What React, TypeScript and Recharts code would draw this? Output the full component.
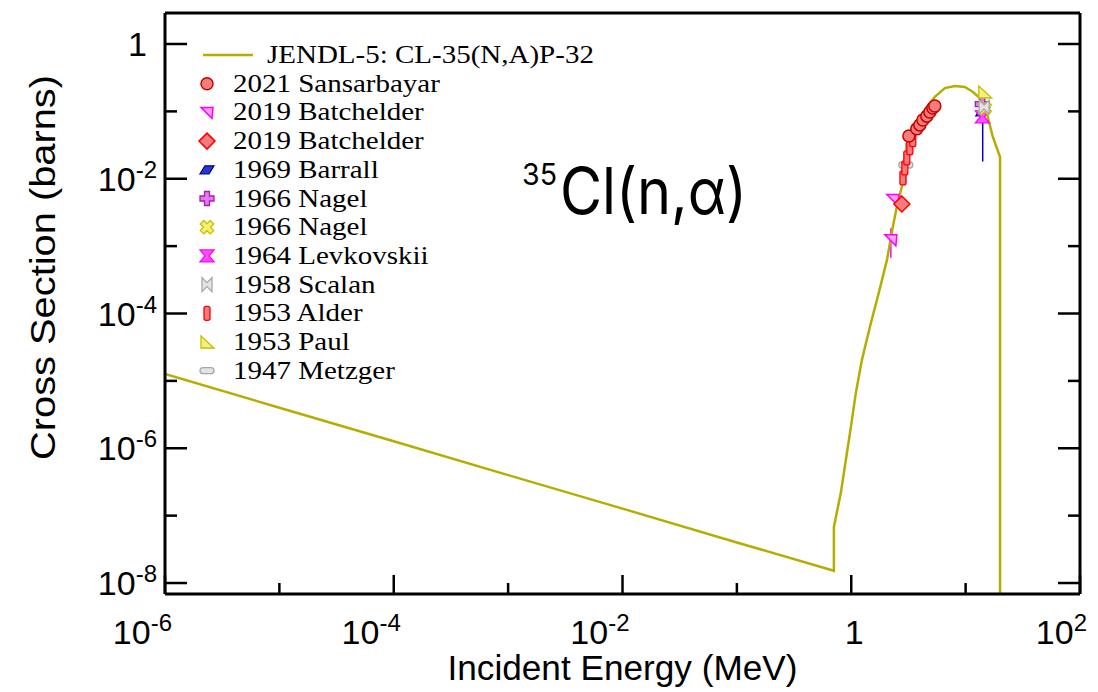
import React from 'react';
import { ComposedChart, Line, Scatter, XAxis, YAxis, ErrorBar, Legend } from 'recharts';

// JENDL-5 evaluated curve (MeV, barns)
const jendlEnergy = [1e-6, 1e-5, 1e-4, 1e-3, 1e-2, 0.1, 0.705, 0.705, 0.811, 0.897, 0.993, 1.097, 1.24, 1.455, 1.74, 2.05, 2.31, 2.5, 2.77, 3.0, 3.25, 3.6, 3.98, 4.58, 5.38, 6.58, 8.05, 9.84, 11.6, 13.3, 15.3, 17.3, 20, 20];
const jendlXs = [1.27e-5, 4.0e-6, 1.27e-6, 4.0e-7, 1.27e-7, 4.0e-8, 1.52e-8, 6.8e-8, 2.18e-7, 6.7e-7, 2.08e-6, 6.6e-6, 2.05e-5, 6.3e-5, 2.02e-4, 6.2e-4, 1.93e-3, 3.8e-3, 7.6e-3, 0.015, 0.0296, 0.053, 0.08, 0.116, 0.164, 0.222, 0.238, 0.23, 0.194, 0.158, 0.0946, 0.0417, 0.021, 1e-12];

// experimental points
const sansarbayarE = [3.19, 3.74, 3.98, 4.23, 4.58, 4.87, 5.17, 5.38];
const sansarbayarXs = [0.043, 0.055, 0.063, 0.0745, 0.085, 0.098, 0.112, 0.12];
const batchelderTriE = [2.22, 2.31];
const batchelderTriXs = [0.00124, 0.0049];
const batchelderTriErr = [[0.00057, 0.0006], [0, 0]];
const batchelderDiaE = [2.77];
const batchelderDiaXs = [0.00423];
const barrallE = [14.1];
const barrallXs = [0.098];
const barrallErr = [[0.08, 0.035]];
const nagelPlusE = [14.0];
const nagelPlusXs = [0.128];
const nagelCrossE = [14.7];
const nagelCrossXs = [0.112];
const levkovskiiE = [14.0];
const levkovskiiXs = [0.083];
const scalanE = [14.5];
const scalanXs = [0.116];
const alderE = [2.83, 2.94, 3.06, 3.25, 3.45];
const alderXs = [0.0103, 0.0145, 0.0204, 0.0288, 0.038];
const paulE = [14.7];
const paulXs = [0.194];
const metzgerE = [3.0];
const metzgerXs = [0.016];
const metzgerErr = [[0.0073, 0.018]];

const xTicks = [1e-6, 1e-5, 1e-4, 1e-3, 1e-2, 1e-1, 1, 10, 100];
const yTicks = [1e-8, 1e-7, 1e-6, 1e-5, 1e-4, 1e-3, 1e-2, 1e-1, 1];

const legendTitle = 'JENDL-5: CL-35(N,A)P-32';
const legendNames = ['2021 Sansarbayar', '2019 Batchelder', '2019 Batchelder', '1969 Barrall', '1966 Nagel', '1966 Nagel', '1964 Levkovskii', '1958 Scalan', '1953 Alder', '1953 Paul', '1947 Metzger'];
const legendKinds = ['circle', 'triL', 'diamond', 'para', 'plus', 'cross', 'hourglass', 'bowtie', 'rectV', 'triR', 'rectH'];

const toPoints = (e: number[], s: number[], err?: number[][]) =>
  e.map((x, i) => (err ? { x, y: s[i], err: err[i] } : { x, y: s[i] }));

const curve = toPoints(jendlEnergy, jendlXs);

const LINE_COLOR = '#b5ad00';
const SANS = 'Liberation Sans, Arial, sans-serif';
const SERIF = 'Liberation Serif, Times New Roman, serif';

function MarkerShape({ kind, cx, cy }: { kind: string; cx: number; cy: number }) {
  const t = `translate(${cx},${cy})`;
  switch (kind) {
    case 'circle':
      return <circle cx={cx} cy={cy} r={6} fill="#f47c7c" stroke="#c80000" strokeWidth={1.5} />;
    case 'triL':
      return <polygon transform={t} points="-6,-5 6,-5 5,6" fill="#ffa0ff" stroke="#ff00ff" strokeWidth={1.5} />;
    case 'diamond':
      return <polygon transform={t} points="0,-8 8,0 0,8 -8,0" fill="#f47c7c" stroke="#ff0000" strokeWidth={1.5} />;
    case 'para':
      return <polygon transform={t} points="-7,4 -2,-4 7,-4 2,4" fill="#2838c8" stroke="#0000a0" strokeWidth={1.2} />;
    case 'plus':
      return <polygon transform={t} points="-2.5,-7 2.5,-7 2.5,-2.5 7,-2.5 7,2.5 2.5,2.5 2.5,7 -2.5,7 -2.5,2.5 -7,2.5 -7,-2.5 -2.5,-2.5" fill="#e878f0" stroke="#a020b0" strokeWidth={1.3} />;
    case 'cross':
      return <polygon transform={`${t} rotate(45)`} points="-2.5,-7 2.5,-7 2.5,-2.5 7,-2.5 7,2.5 2.5,2.5 2.5,7 -2.5,7 -2.5,2.5 -7,2.5 -7,-2.5 -2.5,-2.5" fill="#f4f070" stroke="#c8c000" strokeWidth={1.3} />;
    case 'hourglass':
      return <polygon transform={t} points="-7,-6 7,-6 2,0 7,6 -7,6 -2,0" fill="#ff50ff" stroke="#ff00ff" strokeWidth={1.3} />;
    case 'bowtie':
      return <polygon transform={t} points="-5,-7 0,-2 5,-7 5,7 0,2 -5,7" fill="#e4e4e4" stroke="#a8a8a8" strokeWidth={1.3} />;
    case 'rectV':
      return <rect x={cx - 3} y={cy - 7} width={6} height={14} rx={2} fill="#f47c7c" stroke="#ff0000" strokeWidth={1.3} />;
    case 'triR':
      return <polygon transform={t} points="-6,-6 -6,6 7,6" fill="#f4f080" stroke="#c0c000" strokeWidth={1.3} />;
    case 'rectH':
      return <rect x={cx - 7} y={cy - 3} width={14} height={6} rx={3} fill="#e4e4e4" stroke="#a8a8a8" strokeWidth={1.3} />;
    default:
      return null;
  }
}

const shapeOf = (kind: string) => (p: any) => <MarkerShape kind={kind} cx={p.cx} cy={p.cy} />;

function PowText({ x, y, exp, anchor }: { x: number; y: number; exp: number; anchor: 'start' | 'middle' | 'end' }) {
  const style = { fontFamily: SANS, fontSize: 34, fill: '#000' };
  if (exp === 0) {
    return <text x={x} y={y} textAnchor={anchor} style={style}>1</text>;
  }
  return (
    <text x={x} y={y} textAnchor={anchor} style={style}>
      10<tspan dy={-13} fontSize={24}>{exp}</tspan>
    </text>
  );
}

const expOf = (v: number) => Math.round(Math.log10(v));

function BottomTick(props: any) {
  const { x, y, payload } = props;
  const exp = expOf(payload.value);
  const major = exp % 2 === 0;
  return (
    <g>
      <line x1={x} x2={x} y1={y} y2={y - (major ? 19 : 11)} stroke="#000" strokeWidth={2.5} />
      {major && <PowText x={exp === 0 ? x + 3 : x + 7} y={y + 50} exp={exp} anchor={exp === 0 ? 'middle' : 'end'} />}
    </g>
  );
}

function LeftTick(props: any) {
  const { x, y, payload } = props;
  const exp = expOf(payload.value);
  const major = exp % 2 === 0;
  return (
    <g>
      <line x1={x} x2={x + (major ? 22 : 12)} y1={y} y2={y} stroke="#000" strokeWidth={2.5} />
      {major && <PowText x={exp === 0 ? x - 18 : x - 8} y={y + 12} exp={exp} anchor="end" />}
    </g>
  );
}

function RightTick(props: any) {
  const { x, y, payload } = props;
  const major = expOf(payload.value) % 2 === 0;
  return <line x1={x} x2={x - (major ? 22 : 12)} y1={y} y2={y} stroke="#000" strokeWidth={2.5} />;
}

function XLabel(props: any) {
  const { viewBox } = props;
  return (
    <text
      x={viewBox.x + viewBox.width / 2}
      y={viewBox.y + viewBox.height - 12}
      textAnchor="middle"
      textLength={350}
      lengthAdjust="spacingAndGlyphs"
      style={{ fontFamily: SANS, fontSize: 35, fill: '#000' }}
    >
      Incident Energy (MeV)
    </text>
  );
}

function YLabel(props: any) {
  const { viewBox } = props;
  const cy = viewBox.y + viewBox.height / 2 - 36;
  return (
    <text
      transform={`translate(47,${cy}) rotate(-90)`}
      textAnchor="middle"
      textLength={385}
      lengthAdjust="spacingAndGlyphs"
      style={{ fontFamily: SANS, fontSize: 35, fill: '#000' }}
    >
      Cross Section (barns)
    </text>
  );
}

function LegendBox() {
  const rowY = (i: number) => 47 + i * 28.7;
  return (
    <svg width={800} height={400} style={{ overflow: 'visible' }}>
      <line x1={195} x2={245} y1={rowY(0)} y2={rowY(0)} stroke={LINE_COLOR} strokeWidth={2.5} />
      <text transform={`translate(259,${rowY(0) + 8}) scale(1.16,1)`} style={{ fontFamily: SERIF, fontSize: 25 }}>
        {legendTitle}
      </text>
      {legendNames.map((name, i) => (
        <g key={i}>
          <MarkerShape kind={legendKinds[i]} cx={199} cy={rowY(i + 1)} />
          <text transform={`translate(225,${rowY(i + 1) + 8}) scale(1.16,1)`} style={{ fontFamily: SERIF, fontSize: 25 }}>
            {name}
          </text>
        </g>
      ))}
      <text x={514} y={177} textLength={35} lengthAdjust="spacingAndGlyphs" style={{ fontFamily: 'Inter, sans-serif', fontSize: 30 }}>
        35
      </text>
      <text x={552} y={206} textLength={187} lengthAdjust="spacingAndGlyphs" style={{ fontFamily: 'Inter, sans-serif', fontSize: 64 }}>
        Cl(n,α)
      </text>
    </svg>
  );
}

const logDomainX: [number, number] = [1e-6, 100];
const logDomainY: [number, number] = [Math.pow(10, -8.163), Math.pow(10, 0.46)];

export default function App() {
  return (
    <div style={{ position: 'relative', width: 1090, height: 684 }}>
      <ComposedChart width={1090} height={684} margin={{ top: 4, right: 17, left: 57, bottom: 0 }}>
        <XAxis
          dataKey="x"
          type="number"
          scale="log"
          domain={logDomainX}
          allowDataOverflow
          ticks={xTicks}
          interval={0}
          tickSize={0}
          tickMargin={0}
          tickLine={false}
          tick={<BottomTick />}
          height={98}
          axisLine={{ stroke: '#000', strokeWidth: 3 }}
          label={<XLabel />}
        />
        <XAxis
          xAxisId="top"
          orientation="top"
          type="number"
          scale="log"
          domain={logDomainX}
          allowDataOverflow
          height={1}
          tick={false}
          tickLine={false}
          axisLine={{ stroke: '#000', strokeWidth: 3 }}
        />
        <YAxis
          dataKey="y"
          type="number"
          scale="log"
          domain={logDomainY}
          allowDataOverflow
          ticks={yTicks}
          interval={0}
          tickSize={0}
          tickMargin={0}
          tickLine={false}
          tick={<LeftTick />}
          width={100}
          axisLine={{ stroke: '#000', strokeWidth: 3 }}
          label={<YLabel />}
        />
        <YAxis
          yAxisId="r"
          orientation="right"
          type="number"
          scale="log"
          domain={logDomainY}
          allowDataOverflow
          ticks={yTicks}
          interval={0}
          tickSize={0}
          tickMargin={0}
          tickLine={false}
          tick={<RightTick />}
          width={1}
          axisLine={{ stroke: '#000', strokeWidth: 3 }}
        />
        <Legend
          layout="vertical"
          align="center"
          verticalAlign="middle"
          wrapperStyle={{ left: 0, top: 0, width: 800, height: 400 }}
          content={() => <LegendBox />}
        />
        <Scatter data={toPoints(metzgerE, metzgerXs, metzgerErr)} dataKey="y" shape={shapeOf('rectH')} isAnimationActive={false}>
          <ErrorBar dataKey="err" direction="y" width={0} stroke="#a8a8a8" strokeWidth={2} />
        </Scatter>
        <Scatter data={toPoints(alderE, alderXs)} dataKey="y" shape={shapeOf('rectV')} isAnimationActive={false} />
        <Scatter data={toPoints(sansarbayarE, sansarbayarXs)} dataKey="y" shape={shapeOf('circle')} isAnimationActive={false} />
        <Scatter data={toPoints(batchelderTriE, batchelderTriXs, batchelderTriErr)} dataKey="y" shape={shapeOf('triL')} isAnimationActive={false}>
          <ErrorBar dataKey="err" direction="y" width={0} stroke="#ff00ff" strokeWidth={1.5} />
        </Scatter>
        <Scatter data={toPoints(batchelderDiaE, batchelderDiaXs)} dataKey="y" shape={shapeOf('diamond')} isAnimationActive={false} />
        <Scatter data={toPoints(barrallE, barrallXs, barrallErr)} dataKey="y" shape={shapeOf('para')} isAnimationActive={false}>
          <ErrorBar dataKey="err" direction="y" width={0} stroke="#0000c0" strokeWidth={1.5} />
        </Scatter>
        <Scatter data={toPoints(levkovskiiE, levkovskiiXs)} dataKey="y" shape={shapeOf('hourglass')} isAnimationActive={false} />
        <Scatter data={toPoints(nagelPlusE, nagelPlusXs)} dataKey="y" shape={shapeOf('plus')} isAnimationActive={false} />
        <Scatter data={toPoints(nagelCrossE, nagelCrossXs)} dataKey="y" shape={shapeOf('cross')} isAnimationActive={false} />
        <Scatter data={toPoints(scalanE, scalanXs)} dataKey="y" shape={shapeOf('bowtie')} isAnimationActive={false} />
        <Scatter data={toPoints(paulE, paulXs)} dataKey="y" shape={shapeOf('triR')} isAnimationActive={false} />
        <Line data={curve} dataKey="y" type="linear" stroke={LINE_COLOR} strokeWidth={2.5} dot={false} isAnimationActive={false} />
      </ComposedChart>
    </div>
  );
}
